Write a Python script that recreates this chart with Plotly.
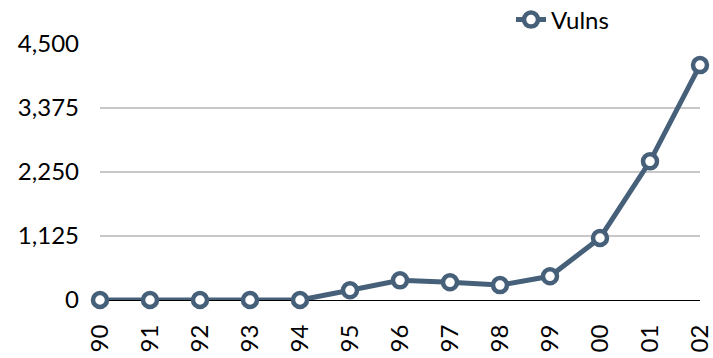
import plotly.graph_objects as go

# CERT/CC reported vulnerabilities per year
years = ["90", "91", "92", "93", "94", "95", "96", "97", "98", "99", "00", "01", "02"]
vulns = [0, 0, 0, 0, 0, 171, 345, 311, 262, 417, 1090, 2437, 4129]
y_ticks = [0, 1125, 2250, 3375, 4500]
y_tick_labels = ["0", "1,125", "2,250", "3,375", "4,500"]

line_color = "#46607a"
font_family = "Lato, 'Open Sans', sans-serif"

fig = go.Figure()
fig.add_trace(go.Scatter(
    x=list(range(len(years))),
    y=vulns,
    name="Vulns",
    mode="lines+markers",
    line=dict(color=line_color, width=5),
    marker=dict(symbol="circle", size=14, color="white",
                line=dict(color=line_color, width=4.5)),
    cliponaxis=False,
))

fig.update_layout(
    width=713, height=358,
    margin=dict(l=100, r=13, t=44, b=58, autoexpand=False),
    paper_bgcolor="white",
    plot_bgcolor="white",
    font=dict(family=font_family, size=24, color="black"),
    showlegend=True,
    legend=dict(
        x=0.685, y=1.0 + 24 / 256, xanchor="left", yanchor="middle",
        orientation="h",
        font=dict(size=24),
        bgcolor="rgba(0,0,0,0)",
        itemwidth=30,
    ),
    xaxis=dict(
        range=[0, len(years) - 1],
        tickmode="array",
        tickvals=list(range(len(years))),
        ticktext=years,
        tickangle=-90,
        showgrid=False,
        zeroline=False,
        showline=False,
        ticks="outside",
        ticklen=14,
        tickcolor="rgba(0,0,0,0)",
        automargin=False,
    ),
    yaxis=dict(
        range=[0, 4500],
        tickmode="array",
        tickvals=y_ticks,
        ticktext=y_tick_labels,
        showgrid=True,
        gridcolor="#c8c8c8",
        gridwidth=1.5,
        zeroline=True,
        zerolinecolor="black",
        zerolinewidth=1,
        ticks="",
        ticklabelstandoff=20,
        automargin=False,
    ),
)

fig.write_html("out.html")
